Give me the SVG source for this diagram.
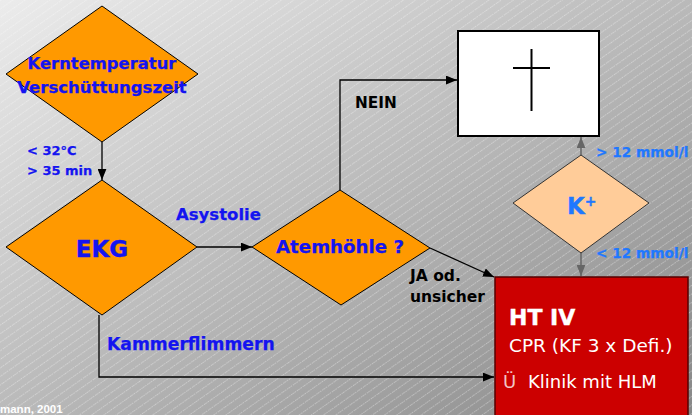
<svg xmlns="http://www.w3.org/2000/svg" width="692" height="415" viewBox="0 0 692 415">
  <defs>
    <linearGradient id="bg" x1="0" y1="0" x2="1" y2="1">
      <stop offset="0" stop-color="#ececec"/>
      <stop offset="1" stop-color="#878787"/>
    </linearGradient>
    <pattern id="hatch" width="7" height="7" patternUnits="userSpaceOnUse" patternTransform="rotate(-35)">
      <line x1="0" y1="0.5" x2="7" y2="0.5" stroke="#ffffff" stroke-opacity="0.35" stroke-width="1" stroke-dasharray="1.5 1"/>
    </pattern>
    <marker id="arr" viewBox="0 0 10 8" refX="10" refY="4" markerWidth="11" markerHeight="9" markerUnits="userSpaceOnUse" orient="auto">
      <path d="M0,0 L10,4 L0,8 Z" fill="#000"/>
    </marker>
    <marker id="arrGray" viewBox="0 0 10 8" refX="10" refY="4" markerWidth="11" markerHeight="9" markerUnits="userSpaceOnUse" orient="auto">
      <path d="M0,0 L10,4 L0,8 Z" fill="#666"/>
    </marker>
    <style>
      .dia { fill: #ff9900; stroke: #000; stroke-width: 1; }
      .diaK { fill: #ffcc99; stroke: #333; stroke-width: 1; }
      .lbl { font-family: "DejaVu Sans", "Liberation Sans", sans-serif; font-weight: bold; stroke-width: 0.25; }
      .big { stroke-width: 0.4; }
      .blue { fill: #1414f0; stroke: #1414f0; }
      .lblue { fill: #1f78ff; stroke: #1f78ff; }
      .dark { fill: #000; stroke: none; }
      .conn { fill: none; stroke: #000; stroke-width: 1.3; marker-end: url(#arr); }
      .connG { fill: none; stroke: #666; stroke-width: 1.5; marker-end: url(#arrGray); }
      .white { fill: #fff; font-family: "DejaVu Sans", "Liberation Sans", sans-serif; }
    </style>
  </defs>

  <!-- backdrop -->
  <rect x="0" y="0" width="692" height="415" fill="url(#bg)"/>
  <rect x="0" y="0" width="692" height="415" fill="url(#hatch)"/>

  <!-- connectors -->
  <g id="connectors">
    <path class="conn" d="M102,142 L102,180"/>
    <path class="conn" d="M197,247 L252,247"/>
    <path class="conn" d="M340,190 L340,80 L457,80"/>
    <path class="conn" d="M430,248 L494,277"/>
    <path class="conn" d="M99,315 L99,377 L494,377"/>
    <path class="connG" d="M581,155 L581,137"/>
    <path class="connG" d="M581,253 L581,276"/>
  </g>

  <!-- edge labels -->
  <g id="edge-labels" class="lbl">
    <text class="blue" x="27" y="155" font-size="13">&lt; 32°C</text>
    <text class="blue" x="27" y="175" font-size="13">&gt; 35 min</text>
    <text class="blue" x="176" y="220" font-size="16.5">Asystolie</text>
    <text class="blue" x="107" y="350" font-size="17.2">Kammerflimmern</text>
    <text class="dark" x="355" y="108" font-size="15.3">NEIN</text>
    <text class="dark" x="410" y="281" font-size="15.5">JA od.</text>
    <text class="dark" x="410" y="302" font-size="15.5">unsicher</text>
    <text class="lblue" x="596" y="157" font-size="13.7">&gt; 12 mmol/l</text>
    <text class="lblue" x="596" y="258" font-size="13.7">&lt; 12 mmol/l</text>
  </g>

  <g id="node-kerntemperatur">
    <polygon class="dia" points="102,6 198,74 102,142 6,74"/>
    <text class="lbl blue" x="102" y="69" font-size="16.4" text-anchor="middle">Kerntemperatur</text>
    <text class="lbl blue" x="102" y="93" font-size="16.5" text-anchor="middle">Verschüttungszeit</text>
  </g>

  <g id="node-ekg">
    <polygon class="dia" points="102,180 197,247 102,315 6,247"/>
    <text class="lbl big blue" x="102" y="257" font-size="23" text-anchor="middle">EKG</text>
  </g>

  <g id="node-atemhoehle">
    <polygon class="dia" points="340,190 430,248 341,305 252,247"/>
    <text class="lbl blue" x="340" y="253" font-size="18.2" text-anchor="middle">Atemhöhle ?</text>
  </g>

  <g id="node-tod">
    <rect x="458" y="31" width="141" height="105" fill="#fff" stroke="#000" stroke-width="2"/>
    <line x1="531.5" y1="49" x2="531.5" y2="111" stroke="#000" stroke-width="2"/>
    <line x1="513" y1="68" x2="550" y2="68" stroke="#000" stroke-width="2"/>
  </g>

  <g id="node-kalium">
    <polygon class="diaK" points="581,155 649,203 581,253 513,203"/>
    <text class="lbl big lblue" x="567" y="214" font-size="23">K<tspan dy="-8" font-size="14">+</tspan></text>
  </g>

  <g id="node-ht4">
    <rect x="495" y="277" width="193" height="145" fill="#cc0000" stroke="#550000" stroke-width="1.5"/>
    <text class="white" x="509" y="325" font-size="22" font-weight="bold" stroke="#fff" stroke-width="0.4">HT IV</text>
    <text class="white" x="509" y="352" font-size="18.5">CPR (KF 3 x Defi.)</text>
    <text x="503" y="388" font-size="18" fill="#f2c4c4" font-family="DejaVu Sans, Liberation Sans, sans-serif">Ü</text>
    <text class="white" x="528" y="388" font-size="18">Klinik mit HLM</text>
  </g>

  <!-- source note, bottom left -->
  <text x="0" y="413" font-size="11.5" font-weight="bold" fill="#fff" font-family="Liberation Sans, sans-serif">mann, 2001</text>
</svg>
